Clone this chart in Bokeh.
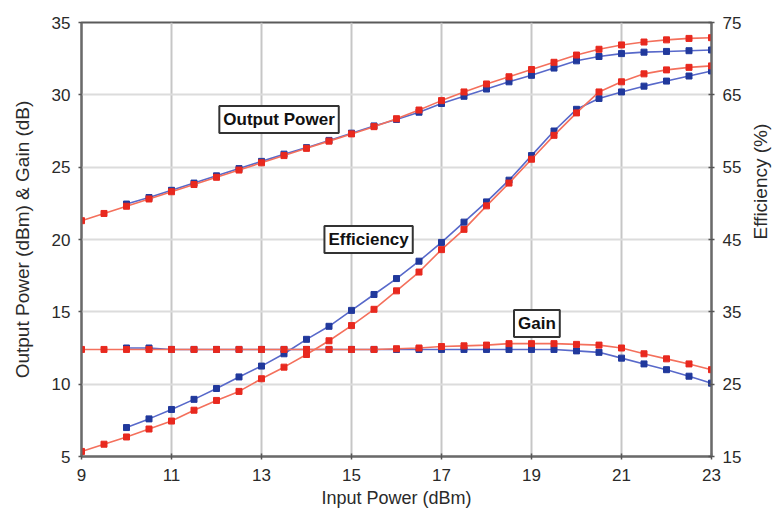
import math
from bokeh.plotting import figure
from bokeh.models import Range1d, LinearAxis, Label, FixedTicker
from bokeh.embed import file_html
from bokeh.resources import INLINE

# ---- data ----
x_red = [9, 9.5, 10, 10.5, 11, 11.5, 12, 12.5, 13, 13.5, 14, 14.5, 15, 15.5,
         16, 16.5, 17, 17.5, 18, 18.5, 19, 19.5, 20, 20.5, 21, 21.5, 22, 22.5, 23]
x_blue = [10, 10.5, 11, 11.5, 12, 12.5, 13, 13.5, 14, 14.5, 15, 15.5,
          16, 16.5, 17, 17.5, 18, 18.5, 19, 19.5, 20, 20.5, 21, 21.5, 22, 22.5, 23]

pout_red = [21.3, 21.8, 22.3, 22.8, 23.3, 23.8, 24.3, 24.8, 25.3, 25.8, 26.3, 26.8, 27.3, 27.8,
            28.35, 28.95, 29.6, 30.2, 30.75, 31.25, 31.75, 32.25, 32.75, 33.15, 33.45, 33.65, 33.8, 33.9, 33.95]
pout_blue = [22.45, 22.9, 23.4, 23.9, 24.4, 24.9, 25.4, 25.9, 26.35, 26.85, 27.35, 27.85,
             28.3, 28.8, 29.4, 29.9, 30.4, 30.9, 31.35, 31.85, 32.35, 32.65, 32.85, 32.95, 33.0, 33.05, 33.1]

gain_red = [12.4, 12.4, 12.4, 12.4, 12.4, 12.4, 12.4, 12.4, 12.4, 12.4, 12.4, 12.4, 12.4, 12.4,
            12.45, 12.5, 12.6, 12.65, 12.7, 12.8, 12.8, 12.8, 12.75, 12.7, 12.5, 12.1, 11.75, 11.4, 11.0]
gain_blue = [12.5, 12.5, 12.4, 12.4, 12.4, 12.4, 12.4, 12.4, 12.4, 12.4, 12.4, 12.4,
             12.4, 12.4, 12.4, 12.4, 12.4, 12.4, 12.4, 12.4, 12.3, 12.2, 11.8, 11.4, 11.0, 10.55, 10.07]

eff_red = [15.7, 16.7, 17.7, 18.8, 19.9, 21.4, 22.75, 24.0, 25.75, 27.35, 29.1, 31.0, 33.1, 35.35,
           37.9, 40.5, 43.6, 46.4, 49.65, 52.8, 56.1, 59.4, 62.5, 65.4, 66.8, 67.9, 68.45, 68.8, 69.0]
eff_blue = [19.0, 20.2, 21.5, 22.9, 24.4, 26.0, 27.5, 29.2, 31.2, 33.0, 35.2, 37.4,
            39.6, 42.0, 44.6, 47.4, 50.2, 53.2, 56.6, 60.0, 63.0, 64.5, 65.4, 66.2, 66.9, 67.6, 68.3]

x_ticks = [9, 11, 13, 15, 17, 19, 21, 23]
left_ticks = [5, 10, 15, 20, 25, 30, 35]
right_ticks = [15, 25, 35, 45, 55, 65, 75]

FONT = "Liberation Sans"
RED_L, RED_M = "#f4705c", "#e8291f"
BLUE_L, BLUE_M = "#5869ca", "#21399c"
TXT = "#2a2a2a"

p = figure(width=772, height=517, frame_width=630, frame_height=434,
           min_border_left=81, min_border_right=61, min_border_top=22, min_border_bottom=61,
           x_range=Range1d(9, 23), y_range=Range1d(5, 35),
           output_backend="svg", toolbar_location=None)
p.extra_y_ranges = {"eff": Range1d(15, 75)}

p.background_fill_color = "white"
p.border_fill_color = "white"
p.outline_line_color = "#5a5a5a"
p.outline_line_width = 2

p.xgrid.ticker = FixedTicker(ticks=x_ticks)
p.ygrid.ticker = FixedTicker(ticks=left_ticks)
p.xgrid.grid_line_color = "#c6c6c6"
p.ygrid.grid_line_color = "#dcdcdc"
p.xgrid.grid_line_width = 2
p.ygrid.grid_line_width = 2

def style_axis(ax, standoff):
    ax.major_label_text_font = FONT
    ax.major_label_text_font_size = "17px"
    ax.major_label_text_color = TXT
    ax.major_label_standoff = standoff
    ax.axis_label_text_font = FONT
    ax.axis_label_text_font_style = "normal"
    ax.axis_label_text_color = TXT
    ax.axis_line_color = "#6a6a6a"
    ax.axis_line_width = 2
    ax.major_tick_line_color = "#555555"
    ax.major_tick_line_width = 1.5
    ax.minor_tick_line_color = None
    ax.major_tick_in = 3
    ax.major_tick_out = 3

p.xaxis.ticker = FixedTicker(ticks=x_ticks)
p.xaxis.axis_label = "Input Power (dBm)"
p.yaxis.ticker = FixedTicker(ticks=left_ticks)
p.yaxis.axis_label = "Output Power (dBm) & Gain (dB)"
style_axis(p.xaxis[0], 9)
style_axis(p.yaxis[0], 8)
p.xaxis.axis_label_text_font_size = "18px"
p.xaxis.axis_label_standoff = 4
p.yaxis.axis_label_text_font_size = "19px"
p.yaxis.axis_label_standoff = 16
p.yaxis.major_tick_in = 0

rax = LinearAxis(y_range_name="eff", ticker=FixedTicker(ticks=right_ticks),
                 axis_label="Efficiency (%)")
style_axis(rax, 8)
rax.axis_label_text_font_size = "19px"
rax.axis_label_standoff = 16
if "axis_label_orientation" in rax.properties():
    rax.axis_label_orientation = math.pi / 2
p.add_layout(rax, "right")

def series(x, y, lc, mc, yr="default"):
    p.line(x, y, line_color=lc, line_width=1.6, y_range_name=yr)
    p.scatter(x, y, marker="square", size=6, fill_color=mc, line_color=mc, y_range_name=yr)

series(x_blue, pout_blue, BLUE_L, BLUE_M)
series(x_blue, gain_blue, BLUE_L, BLUE_M)
series(x_blue, eff_blue, BLUE_L, BLUE_M, "eff")
series(x_red, pout_red, RED_L, RED_M)
series(x_red, gain_red, RED_L, RED_M)
series(x_red, eff_red, RED_L, RED_M, "eff")

def box(x, y, txt):
    p.add_layout(Label(x=x, y=y, text=txt, text_align="center", text_baseline="middle",
                       text_font=FONT, text_font_size="17px", text_font_style="bold",
                       text_color="#111111", background_fill_color="white",
                       border_line_color="#333333", border_line_width=2, padding=4))

box(13.39, 28.3, "Output Power")
box(15.38, 20.0, "Efficiency")
box(19.12, 14.2, "Gain")

open("out.html", "w").write(file_html(p, INLINE))
